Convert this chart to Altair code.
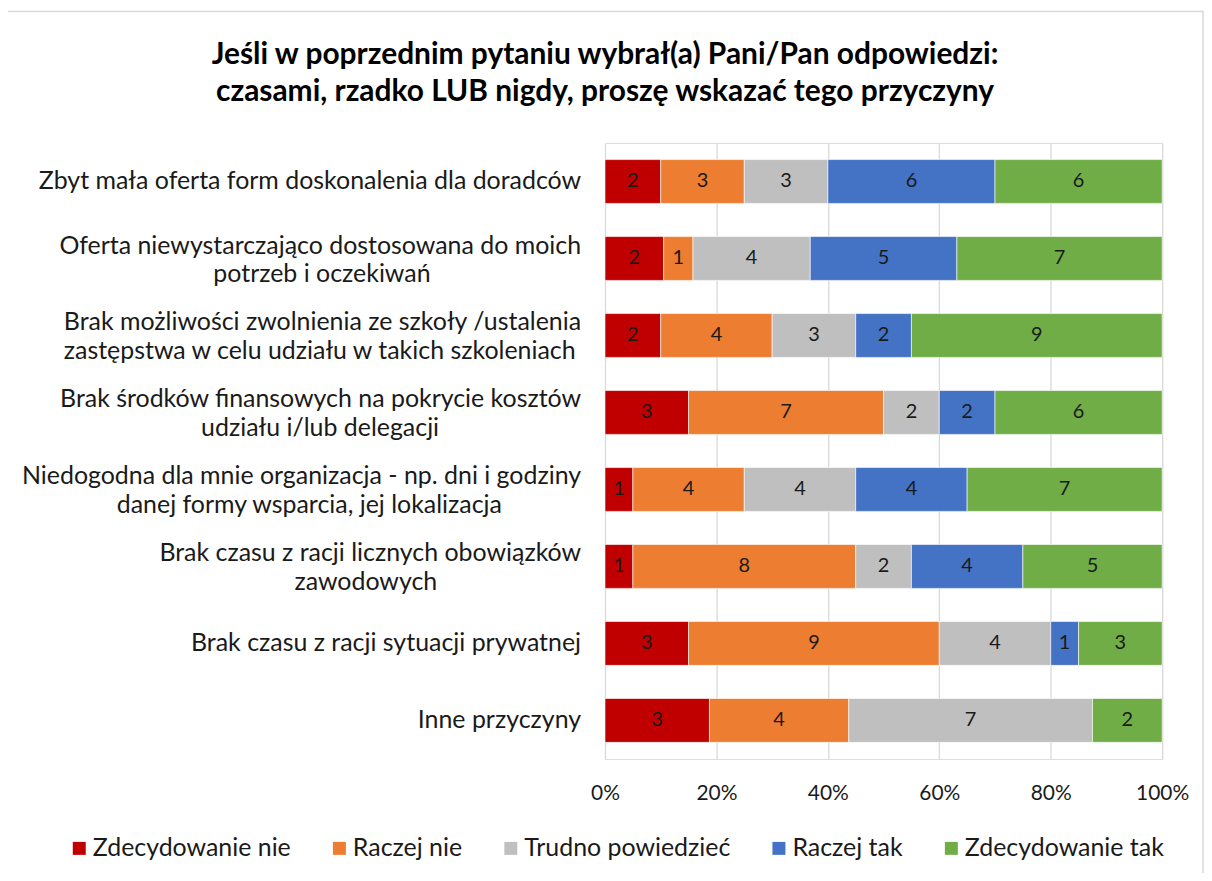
import altair as alt
import pandas as pd

# ---------------- data ----------------
label_lines = [
    ["Zbyt mała oferta form doskonalenia dla doradców"],
    ["Oferta niewystarczająco dostosowana do moich", "potrzeb i oczekiwań"],
    ["Brak możliwości zwolnienia ze szkoły /ustalenia", "zastępstwa w celu udziału w takich szkoleniach"],
    ["Brak środków finansowych na pokrycie kosztów", "udziału i/lub delegacji"],
    ["Niedogodna dla mnie organizacja - np. dni i godziny", "danej formy wsparcia, jej lokalizacja"],
    ["Brak czasu z racji licznych obowiązków", "zawodowych"],
    ["Brak czasu z racji sytuacji prywatnej"],
    ["Inne przyczyny"],
]
categories = [" ".join(l) for l in label_lines]

series = ["Zdecydowanie nie", "Raczej nie", "Trudno powiedzieć", "Raczej tak", "Zdecydowanie tak"]
colors = ["#C00000", "#ED7D31", "#BFBFBF", "#4472C4", "#70AD47"]

zdecydowanie_nie = [2, 2, 2, 3, 1, 1, 3, 3]
raczej_nie = [3, 1, 4, 7, 4, 8, 9, 4]
trudno_powiedziec = [3, 4, 3, 2, 4, 2, 4, 7]
raczej_tak = [6, 5, 2, 2, 4, 4, 1, 0]
zdecydowanie_tak = [6, 7, 9, 6, 7, 5, 3, 2]
values = [zdecydowanie_nie, raczej_nie, trudno_powiedziec, raczej_tak, zdecydowanie_tak]

x_ticks = [0, 0.2, 0.4, 0.6, 0.8, 1.0]

title_lines = [
    "Jeśli w poprzednim pytaniu wybrał(a) Pani/Pan odpowiedzi:",
    "czasami, rzadko LUB nigdy, proszę wskazać tego przyczyny",
]

# ---------------- layout ----------------
FONT = "Lato"
W, H = 559, 618
PAD_L, PAD_T = 599, 134
TOTAL_W, TOTAL_H = 1200, 865
LABEL_RIGHT = -24
LABEL_SIZE = 25
DY_TOP, DY_BOTTOM = -13, 16
TEXT_COLOR = "#1a1a1a"


def est_width(s, size):
    w = 0.0
    for ch in s:
        if ch == " ":
            w += 0.20
        elif ch in "iljł.,:;!|'":
            w += 0.25
        elif ch in "tfr/()-I":
            w += 0.33
        elif ch in "mw":
            w += 0.78
        elif ch in "MW":
            w += 0.9
        elif ch.isupper():
            w += 0.62
        elif ch.isdigit():
            w += 0.58
        else:
            w += 0.53
    return w * size


rows = []
for i, cat in enumerate(categories):
    for s, vals in enumerate(values):
        rows.append({"category": cat, "series": series[s], "order": s, "value": vals[i]})
df = pd.DataFrame(rows)

lab_rows = []
for cat, lines in zip(categories, label_lines):
    widths = [est_width(l, LABEL_SIZE) for l in lines]
    wmax = max(widths)
    n = len(lines)
    for j, (l, w) in enumerate(zip(lines, widths)):
        dy = 0 if n == 1 else (DY_TOP if j == 0 else DY_BOTTOM)
        if w == wmax:
            align, px = "right", LABEL_RIGHT
        else:
            align, px = "center", LABEL_RIGHT - wmax / 2
        lab_rows.append({"category": cat, "text": l, "px": px, "align": align, "dy": dy})
df_lab = pd.DataFrame(lab_rows)

y_enc = alt.Y("category:N", sort=categories, axis=None,
              scale=alt.Scale(paddingInner=0.43, paddingOuter=0.215))

base = alt.Chart(df).transform_filter("datum.value > 0").transform_stack(
    stack="value", groupby=["category"], as_=["x0", "x1"],
    sort=[alt.SortField("order", order="ascending")], offset="normalize"
).transform_calculate(mid="(datum.x0 + datum.x1) / 2")

bars = base.mark_bar(size=44, stroke="white", strokeWidth=0.6).encode(
    x=alt.X("x0:Q", scale=alt.Scale(domain=[0, 1], nice=False),
            axis=alt.Axis(values=x_ticks, format=".0%", title=None, grid=True,
                          gridColor="#D9D9D9", gridWidth=1.3, domain=False, ticks=False,
                          labelFontSize=21, labelColor=TEXT_COLOR, labelPadding=24,
                          labelFlush=False, labelFont=FONT)),
    x2="x1:Q",
    y=y_enc,
    color=alt.Color("series:N", sort=series,
                    scale=alt.Scale(domain=series, range=colors),
                    legend=alt.Legend(title=None, orient="none", direction="horizontal",
                                      legendX=-540, legendY=695, columns=5,
                                      symbolType="square", symbolSize=169,
                                      symbolStrokeWidth=0, labelFontSize=25,
                                      labelFont=FONT, labelColor=TEXT_COLOR,
                                      labelOffset=1, columnPadding=36,
                                      labelLimit=400)),
    order=alt.Order("order:Q"),
)

bar_text = base.mark_text(fontSize=20, font=FONT, color=TEXT_COLOR).encode(
    x=alt.X("mid:Q"),
    y=y_enc,
    text=alt.Text("value:Q"),
)

label_layers = []
for align in ["right", "center"]:
    for dy in [DY_TOP, 0, DY_BOTTOM]:
        sub = df_lab[(df_lab["align"] == align) & (df_lab["dy"] == dy)]
        if len(sub) == 0:
            continue
        label_layers.append(
            alt.Chart(sub).mark_text(align=align, baseline="middle", dy=dy,
                                     fontSize=LABEL_SIZE, font=FONT, color=TEXT_COLOR).encode(
                x=alt.X("px:Q", scale=None),
                y=y_enc,
                text="text:N",
            )
        )

one = pd.DataFrame({"a": [0]})
title_layers = [
    alt.Chart(one).mark_text(text=t, font=FONT, fontSize=30, fontWeight="bold",
                             color="#000000", align="center", baseline="alphabetic").encode(
        x=alt.value(0), y=alt.value(yy))
    for t, yy in zip(title_lines, [-79, -42])
]

border = alt.Chart(one).mark_rect(
    filled=False, stroke="#D9D9D9", strokeWidth=1.5
).encode(
    x=alt.value(-600), x2=alt.value(600), y=alt.value(-132), y2=alt.value(760)
)

chart = alt.layer(border, bars, bar_text, *label_layers, *title_layers).properties(
    width=W, height=H,
    autosize=alt.AutoSizeParams(type="none"),
    padding={"left": PAD_L, "top": PAD_T, "right": TOTAL_W - PAD_L - W,
             "bottom": TOTAL_H - PAD_T - H},
).configure_view(stroke=None).configure(font=FONT)

chart.save("out.html", embed_options={"renderer": "svg", "actions": False})
